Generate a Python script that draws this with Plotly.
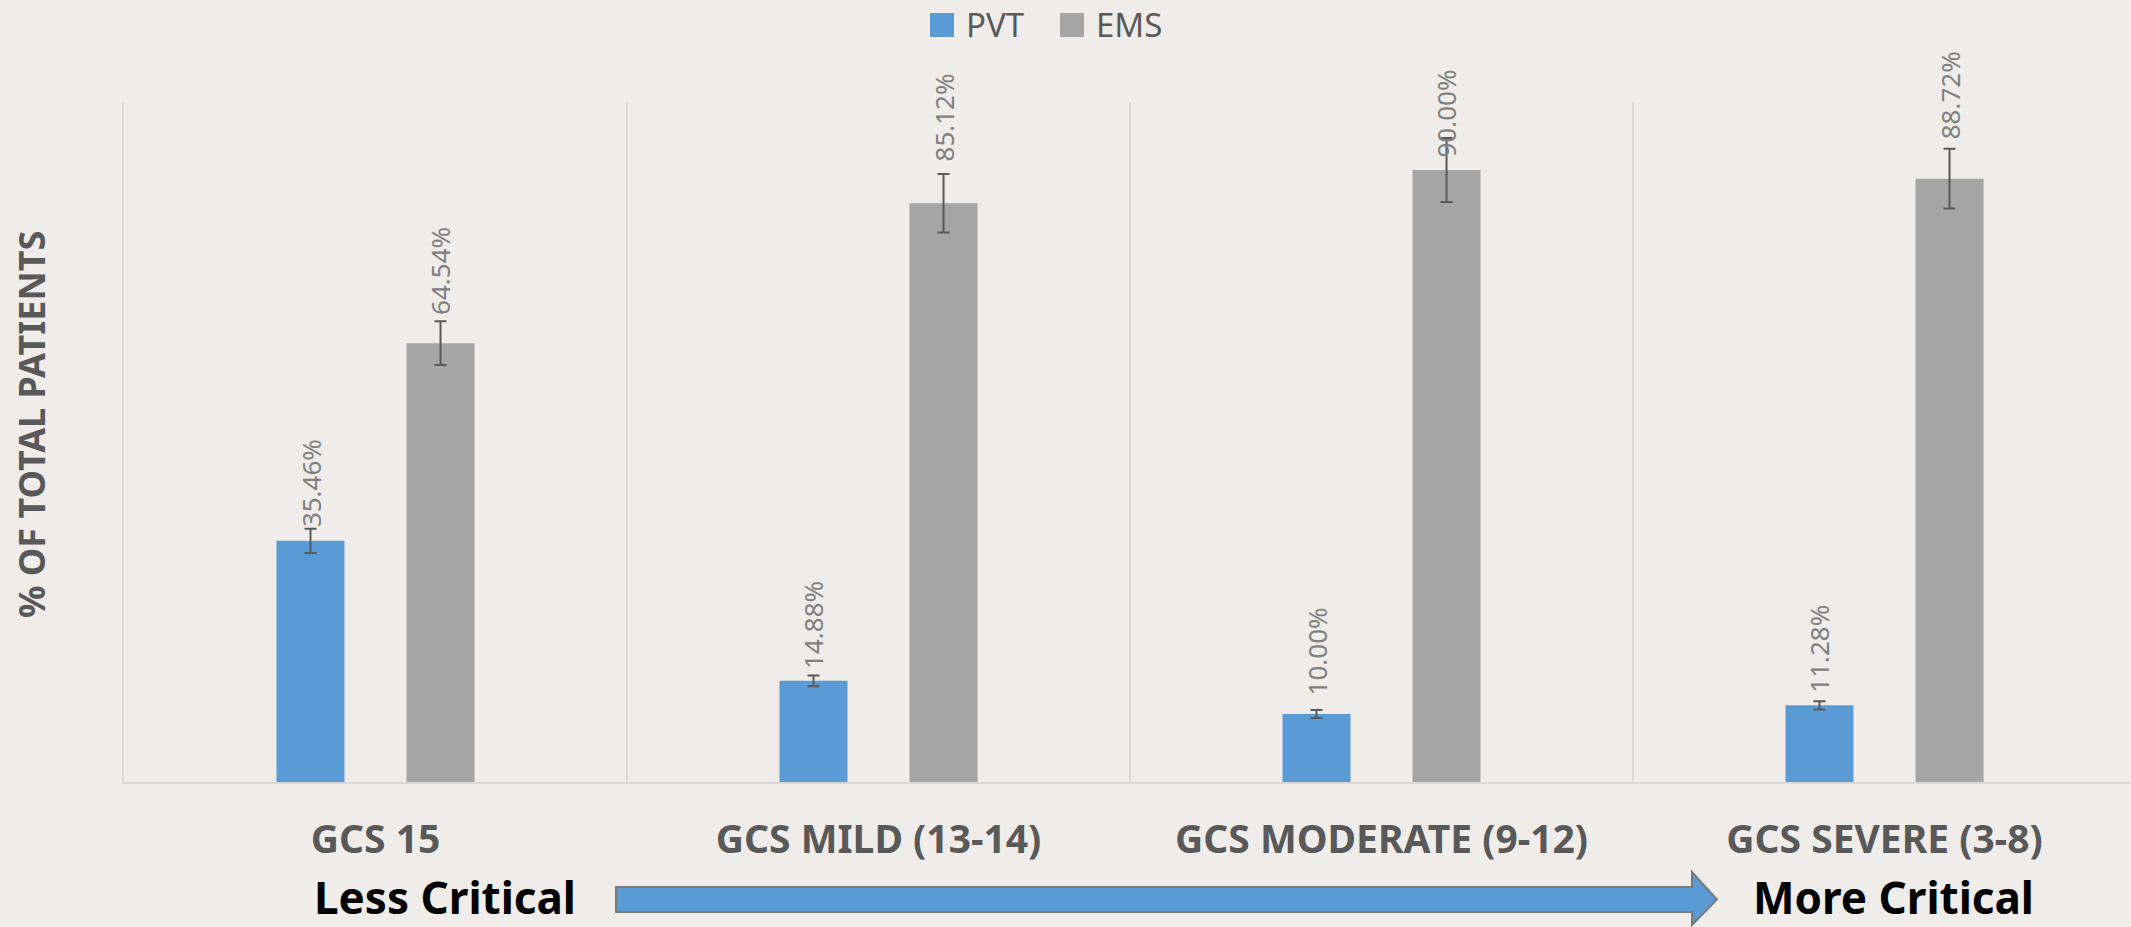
import plotly.graph_objects as go

# ---- data ----
categories = ["GCS 15", "GCS MILD (13-14)", "GCS MODERATE (9-12)", "GCS SEVERE (3-8)"]
series_names = ["PVT", "EMS"]
pvt_values = [35.46, 14.88, 10.00, 11.28]
ems_values = [64.54, 85.12, 90.00, 88.72]
pvt_errors = [1.8, 0.8, 0.6, 0.6]
ems_errors = [3.2, 4.3, 4.7, 4.4]
y_title = "% OF TOTAL PATIENTS"
left_note = "Less Critical"
right_note = "More Critical"

# ---- styling ----
W, H = 2131, 927
PL, PR, PT, PB = 124, 2131, 102, 782          # plot area in pixels
BG = "#efece9"
BLUE = "#5b9bd5"
GRAY = "#a5a5a5"
TXT = "#595959"
LBL = "#808080"
FONT = "Noto Sans"
BARGAP = 0.483
BARGROUPGAP = 0.477
pvt_label_shift = [0, 4, 12, 6]
ems_label_shift = [4, 10, -22, 7]


def px(x):
    return (x - PL) / (PR - PL)


def py(y):
    return (PB - y) / (PB - PT)


fig = go.Figure()
for name, vals, errs, col in [
    (series_names[0], pvt_values, pvt_errors, BLUE),
    (series_names[1], ems_values, ems_errors, GRAY),
]:
    fig.add_trace(go.Bar(
        x=categories, y=vals, name=name,
        marker=dict(color=col, line=dict(width=0)),
        error_y=dict(type="data", array=errs, visible=True,
                     color="#595959", thickness=2, width=6),
        showlegend=False,
    ))

annotations = []
off = (1 - BARGAP) / 4
for i in range(len(categories)):
    for vals, errs, shifts, sign in [
        (pvt_values, pvt_errors, pvt_label_shift, -1),
        (ems_values, ems_errors, ems_label_shift, 1),
    ]:
        annotations.append(dict(
            x=i + sign * off, y=vals[i] + errs[i], xref="x", yref="y",
            text=f"{vals[i]:.2f}%", showarrow=False, textangle=-90,
            xanchor="center", yanchor="bottom", yshift=shifts[i],
            font=dict(family=FONT, size=26, color=LBL),
        ))

# y-axis title
annotations.append(dict(
    x=px(31), y=py(425), xref="paper", yref="paper", text=y_title,
    showarrow=False, textangle=-90, xanchor="center", yanchor="middle",
    font=dict(family=FONT, size=36, color=TXT, weight=700),
))

# manual legend
shapes = []
for (x0, name, col, tx) in [(930, series_names[0], BLUE, 964), (1060, series_names[1], GRAY, 1094)]:
    shapes.append(dict(type="rect", xref="paper", yref="paper",
                       x0=px(x0), x1=px(x0 + 24), y0=py(37), y1=py(13),
                       fillcolor=col, line=dict(width=0)))
    annotations.append(dict(x=px(tx), y=py(25), xref="paper", yref="paper",
                            text=name, showarrow=False, xanchor="left", yanchor="middle",
                            font=dict(family=FONT, size=33, color=TXT)))

# bottom notes
annotations.append(dict(x=px(445), y=py(897), xref="paper", yref="paper", text=left_note,
                        showarrow=False, xanchor="center", yanchor="middle",
                        font=dict(family=FONT, size=44, color="#000000", weight=700)))
annotations.append(dict(x=px(1893), y=py(897), xref="paper", yref="paper", text=right_note,
                        showarrow=False, xanchor="center", yanchor="middle",
                        font=dict(family=FONT, size=44, color="#000000", weight=700)))

# arrow
pts = [(616, 887), (1692, 887), (1692, 872), (1717, 899.5), (1692, 925), (1692, 912), (616, 912)]
path = "M " + " L ".join(f"{px(a):.5f},{py(b):.5f}" for a, b in pts) + " Z"
shapes.append(dict(type="path", xref="paper", yref="paper", path=path,
                   fillcolor=BLUE, line=dict(color="#7a7a7a", width=2)))

fig.update_layout(
    width=W, height=H,
    margin=dict(l=PL, r=W - PR, t=PT, b=H - PB, pad=0),
    paper_bgcolor=BG, plot_bgcolor=BG,
    barmode="group", bargap=BARGAP, bargroupgap=BARGROUPGAP,
    showlegend=False,
    annotations=annotations, shapes=shapes,
    font=dict(family=FONT, color=TXT),
)
fig.update_xaxes(
    type="category", range=[-0.5, 3.49],
    tickson="boundaries", showgrid=True, gridcolor="#d9d9d9", gridwidth=2,
    showline=True, linecolor="#d9d9d9", linewidth=2,
    ticks="", ticklabelstandoff=22,
    tickfont=dict(family=FONT, size=39, color=TXT, weight=700),
    fixedrange=True,
)
fig.update_yaxes(
    range=[0, 100], showgrid=False, zeroline=False, showticklabels=False,
    showline=True, linecolor="#d9d9d9", linewidth=2, ticks="", fixedrange=True,
)

fig.write_html(
    "out.html",
    config={"displayModeBar": False},
    post_script="document.body.style.margin='0';document.body.style.background='" + BG + "';",
)
